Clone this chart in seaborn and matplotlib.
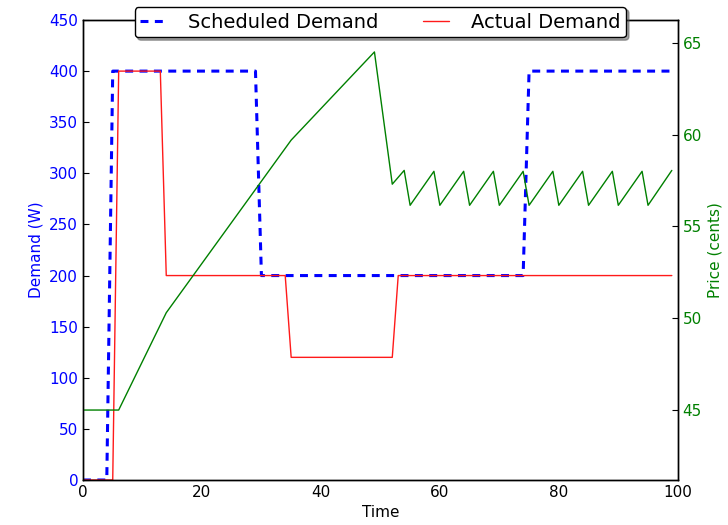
import matplotlib
matplotlib.use("Agg")
import matplotlib.pyplot as plt
import seaborn as sns
import pandas as pd

# ---- data ----
sched_time = [0, 4, 5, 29, 30, 74, 75, 99]
sched_demand = [0, 0, 400, 400, 200, 200, 400, 400]

actual_time = [0, 5, 6, 13, 14, 34, 35, 52, 53, 99]
actual_demand = [0, 0, 400, 400, 200, 200, 120, 120, 200, 200]

price_time = [0, 6, 14, 35, 49, 52, 54, 55, 59, 60, 64, 65, 69, 70, 74,
              75, 79, 80, 84, 85, 89, 90, 94, 95, 99]
price_cents = [45.0, 45.0, 50.3, 59.7, 64.5, 57.3, 58.05, 56.15, 58.0, 56.15,
               58.0, 56.15, 58.0, 56.15, 58.0, 56.15, 58.0, 56.15, 58.0,
               56.15, 58.0, 56.15, 58.0, 56.15, 58.05]

x_ticks = [0, 20, 40, 60, 80, 100]
demand_ticks = [0, 50, 100, 150, 200, 250, 300, 350, 400, 450]
price_ticks = [45, 50, 55, 60, 65]

sched_df = pd.DataFrame({"Time": sched_time, "Demand": sched_demand})
actual_df = pd.DataFrame({"Time": actual_time, "Demand": actual_demand})
price_df = pd.DataFrame({"Time": price_time, "Price": price_cents})

sns.set_style("white")
plt.rcParams["font.family"] = ["DejaVu Sans"]
plt.rcParams["text.color"] = "black"

fig = plt.figure(figsize=(7.28, 5.25), dpi=100)
ax = fig.add_axes([0.114, 0.0857, 0.817, 0.8762])
ax2 = ax.twinx()

sns.lineplot(data=sched_df, x="Time", y="Demand", ax=ax, color="#0000ff",
             linewidth=2.2, estimator=None, sort=False, label="Scheduled Demand")
ax.lines[-1].set_linestyle((0, (2.6, 2.1)))
sns.lineplot(data=actual_df, x="Time", y="Demand", ax=ax, color="#ff1a1a",
             linewidth=1.0, estimator=None, sort=False, label="Actual Demand")
sns.lineplot(data=price_df, x="Time", y="Price", ax=ax2, color="#008000",
             linewidth=1.0, estimator=None, sort=False, legend=False)

ax.set_xlim(0, 100)
ax.set_ylim(0, 450)
ax2.set_ylim(41.19, 66.24)
ax.set_xticks(x_ticks)
ax.set_yticks(demand_ticks)
ax2.set_yticks(price_ticks)

ax.set_xlabel("Time", fontsize=11, color="black")
ax.set_ylabel("Demand (W)", fontsize=11, color="#0000ff")
ax2.set_ylabel("Price (cents)", fontsize=11, color="#008000")

ax.tick_params(axis="x", direction="in", length=4, labelsize=11, colors="black")
ax.tick_params(axis="y", direction="in", length=4, labelsize=11,
               labelcolor="#0000ff", color="black")
ax2.tick_params(axis="y", direction="in", length=4, labelsize=11,
                labelcolor="#008000", color="black")

for a in (ax, ax2):
    for s in a.spines.values():
        s.set_visible(True)
        s.set_color("black")
        s.set_linewidth(1.0)

leg = ax.get_legend()
if leg is not None:
    leg.remove()
handles, labels = ax.get_legend_handles_labels()
leg = ax2.legend(handles, labels, loc="upper center", bbox_to_anchor=(0.5, 1.05),
                 ncol=2, fontsize=14, frameon=True, fancybox=True, shadow=True,
                 framealpha=1, edgecolor="black", columnspacing=2.3,
                 handlelength=1.35, handletextpad=1.1, borderpad=0.3,
                 labelcolor="black")
leg.get_frame().set_linewidth(1.0)

fig.savefig("out.png", dpi=100)
